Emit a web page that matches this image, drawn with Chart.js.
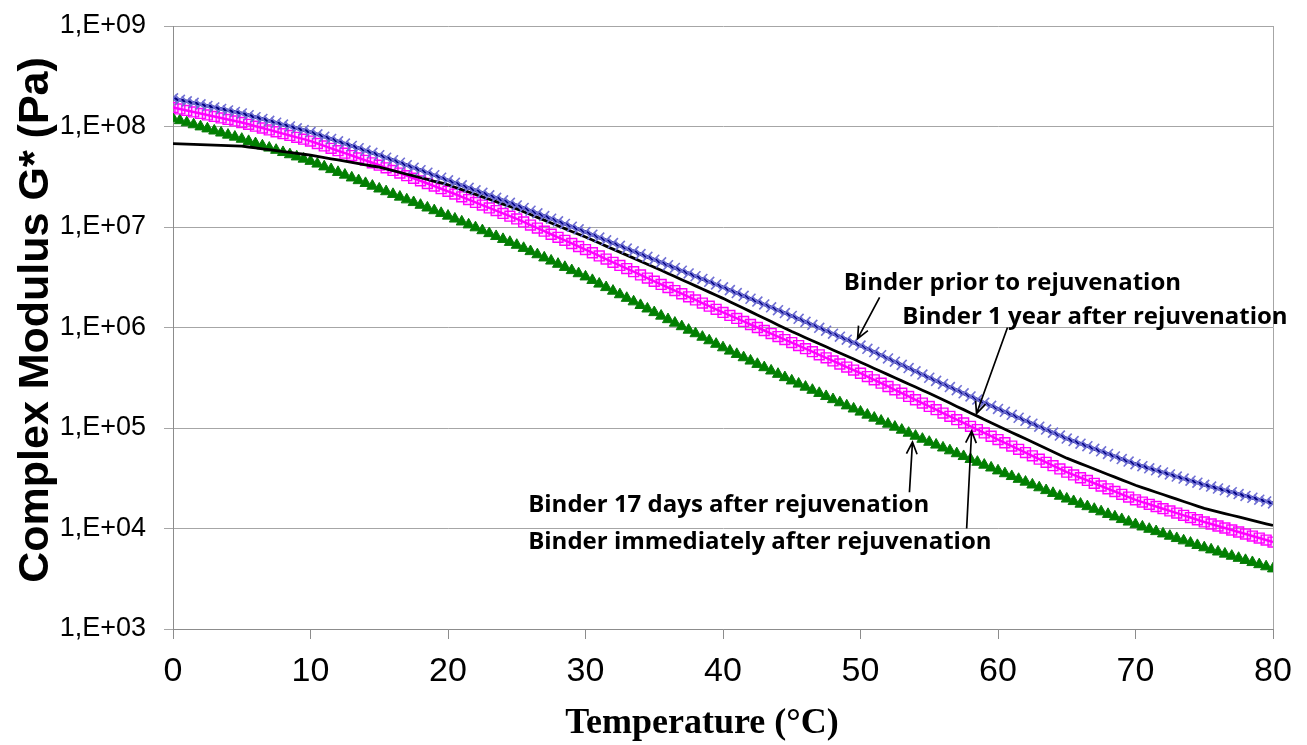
<!DOCTYPE html>
<html>
<head>
<meta charset="utf-8">
<script src="https://cdn.jsdelivr.net/npm/chart.js@4.4.1/dist/chart.umd.min.js"></script>
<style>
  html, body { margin: 0; padding: 0; background: #fff; }
  #wrap { width: 1307px; height: 745px; }
</style>
</head>
<body>
<div id="wrap"><canvas id="grafico" width="1307" height="745"></canvas></div>
<script>
// Temperatura (°C)
const temps = [0,0.5,1,1.5,2,2.5,3,3.5,4,4.5,5,5.5,6,6.5,7,7.5,8,8.5,9,9.5,
  10,10.5,11,11.5,12,12.5,13,13.5,14,14.5,15,15.5,16,16.5,17,17.5,18,18.5,19,19.5,
  20,20.5,21,21.5,22,22.5,23,23.5,24,24.5,25,25.5,26,26.5,27,27.5,28,28.5,29,29.5,
  30,30.5,31,31.5,32,32.5,33,33.5,34,34.5,35,35.5,36,36.5,37,37.5,38,38.5,39,39.5,
  40,40.5,41,41.5,42,42.5,43,43.5,44,44.5,45,45.5,46,46.5,47,47.5,48,48.5,49,49.5,
  50,50.5,51,51.5,52,52.5,53,53.5,54,54.5,55,55.5,56,56.5,57,57.5,58,58.5,59,59.5,
  60,60.5,61,61.5,62,62.5,63,63.5,64,64.5,65,65.5,66,66.5,67,67.5,68,68.5,69,69.5,
  70,70.5,71,71.5,72,72.5,73,73.5,74,74.5,75,75.5,76,76.5,77,77.5,78,78.5,79,79.5,80];

// log10 de G* (Pa)
const logPrior = [8.280,8.265,8.250,8.235,8.220,8.205,8.190,8.175,8.160,8.145,
  8.130,8.112,8.093,8.075,8.056,8.038,8.019,8.001,7.982,7.964,
  7.945,7.922,7.899,7.876,7.853,7.830,7.807,7.784,7.761,7.738,
  7.715,7.690,7.665,7.640,7.615,7.590,7.565,7.540,7.515,7.490,
  7.465,7.440,7.415,7.390,7.365,7.340,7.315,7.290,7.265,7.240,
  7.215,7.189,7.162,7.136,7.109,7.083,7.056,7.030,7.003,6.977,
  6.950,6.923,6.895,6.868,6.840,6.813,6.785,6.758,6.730,6.703,
  6.675,6.648,6.620,6.593,6.565,6.538,6.510,6.483,6.455,6.428,
  6.400,6.372,6.343,6.315,6.286,6.258,6.229,6.201,6.172,6.144,
  6.115,6.086,6.056,6.027,5.997,5.968,5.938,5.909,5.879,5.850,
  5.820,5.788,5.756,5.724,5.692,5.660,5.628,5.596,5.564,5.532,
  5.500,5.469,5.438,5.407,5.376,5.345,5.314,5.283,5.252,5.221,
  5.190,5.161,5.131,5.102,5.072,5.043,5.013,4.984,4.954,4.925,
  4.895,4.870,4.844,4.819,4.793,4.768,4.742,4.717,4.691,4.666,
  4.640,4.620,4.599,4.579,4.558,4.538,4.517,4.497,4.476,4.456,
  4.435,4.417,4.398,4.380,4.361,4.343,4.324,4.306,4.287,4.269,4.250];

const logYear = [7.830,7.828,7.825,7.823,7.820,7.818,7.815,7.813,7.810,7.808,
  7.805,7.796,7.787,7.778,7.769,7.760,7.751,7.742,7.733,7.724,
  7.715,7.703,7.691,7.679,7.667,7.655,7.643,7.631,7.619,7.607,
  7.595,7.578,7.560,7.543,7.525,7.508,7.490,7.473,7.455,7.438,
  7.420,7.396,7.372,7.348,7.324,7.300,7.276,7.252,7.228,7.204,
  7.180,7.152,7.124,7.096,7.068,7.040,7.012,6.984,6.956,6.928,
  6.900,6.870,6.840,6.810,6.780,6.750,6.720,6.690,6.660,6.630,
  6.600,6.569,6.538,6.507,6.476,6.445,6.414,6.383,6.352,6.321,
  6.290,6.257,6.224,6.191,6.158,6.125,6.092,6.059,6.026,5.993,
  5.960,5.930,5.899,5.869,5.838,5.808,5.777,5.747,5.716,5.686,
  5.655,5.624,5.593,5.562,5.531,5.500,5.469,5.438,5.407,5.376,
  5.345,5.313,5.280,5.248,5.215,5.183,5.150,5.118,5.085,5.053,
  5.020,4.988,4.956,4.924,4.892,4.860,4.828,4.796,4.764,4.732,
  4.700,4.673,4.646,4.619,4.592,4.565,4.538,4.511,4.484,4.457,
  4.430,4.407,4.384,4.361,4.338,4.315,4.292,4.269,4.246,4.223,
  4.200,4.183,4.166,4.149,4.132,4.115,4.098,4.081,4.064,4.047,4.030];

const logImmediate = [8.190,8.175,8.160,8.145,8.130,8.115,8.100,8.085,8.070,8.055,
  8.040,8.022,8.003,7.985,7.966,7.948,7.929,7.911,7.892,7.874,
  7.855,7.831,7.807,7.783,7.759,7.735,7.711,7.687,7.663,7.639,
  7.615,7.589,7.563,7.537,7.511,7.485,7.459,7.433,7.407,7.381,
  7.355,7.328,7.300,7.273,7.245,7.218,7.190,7.163,7.135,7.108,
  7.080,7.050,7.019,6.989,6.958,6.928,6.897,6.867,6.836,6.806,
  6.775,6.744,6.712,6.681,6.649,6.618,6.586,6.555,6.523,6.492,
  6.460,6.429,6.398,6.367,6.336,6.305,6.274,6.243,6.212,6.181,
  6.150,6.120,6.090,6.060,6.030,6.000,5.970,5.940,5.910,5.880,
  5.850,5.820,5.789,5.759,5.728,5.698,5.667,5.637,5.606,5.576,
  5.545,5.512,5.479,5.446,5.413,5.380,5.347,5.314,5.281,5.248,
  5.215,5.182,5.149,5.116,5.083,5.050,5.017,4.984,4.951,4.918,
  4.885,4.853,4.820,4.788,4.755,4.723,4.690,4.658,4.625,4.593,
  4.560,4.533,4.505,4.478,4.450,4.423,4.395,4.368,4.340,4.313,
  4.285,4.263,4.241,4.219,4.197,4.175,4.153,4.131,4.109,4.087,
  4.065,4.045,4.025,4.005,3.985,3.965,3.945,3.925,3.905,3.885,3.865];

const log17Days = [8.080,8.060,8.039,8.019,7.998,7.978,7.957,7.937,7.916,7.896,
  7.875,7.853,7.831,7.809,7.787,7.765,7.743,7.721,7.699,7.677,
  7.655,7.628,7.600,7.573,7.545,7.518,7.490,7.463,7.435,7.408,
  7.380,7.353,7.326,7.299,7.272,7.245,7.218,7.191,7.164,7.137,
  7.110,7.081,7.052,7.023,6.994,6.965,6.936,6.907,6.878,6.849,
  6.820,6.789,6.757,6.726,6.694,6.663,6.631,6.600,6.568,6.537,
  6.505,6.470,6.434,6.399,6.363,6.328,6.292,6.257,6.221,6.186,
  6.150,6.115,6.080,6.045,6.010,5.975,5.940,5.905,5.870,5.835,
  5.800,5.767,5.734,5.701,5.668,5.635,5.602,5.569,5.536,5.503,
  5.470,5.439,5.408,5.377,5.346,5.315,5.284,5.253,5.222,5.191,
  5.160,5.130,5.100,5.070,5.040,5.010,4.980,4.950,4.920,4.890,
  4.860,4.832,4.803,4.775,4.746,4.718,4.689,4.661,4.632,4.604,
  4.575,4.547,4.519,4.491,4.463,4.435,4.407,4.379,4.351,4.323,
  4.295,4.270,4.244,4.219,4.193,4.168,4.142,4.117,4.091,4.066,
  4.040,4.017,3.994,3.971,3.948,3.925,3.902,3.879,3.856,3.833,
  3.810,3.789,3.768,3.747,3.726,3.705,3.684,3.663,3.642,3.621,3.600];

// Ticks del eje Y
const yTickValues = [1e3, 1e4, 1e5, 1e6, 1e7, 1e8, 1e9];
const yTickLabels = ['1,E+03', '1,E+04', '1,E+05', '1,E+06', '1,E+07', '1,E+08', '1,E+09'];

const xTitle = 'Temperature (°C)';
const yTitle = 'Complex Modulus G* (Pa)';

// Anotaciones: texto, posición del texto y flecha (temperatura, log10 G*)
const notas = [
  { texto: 'Binder prior to rejuvenation', pos: [48.78, 6.377], cola: [51.39, 6.30], punta: [49.79, 5.89] },
  { texto: 'Binder 1 year after rejuvenation', pos: [53.04, 6.032], cola: [60.69, 6.00], punta: [58.44, 5.144] },
  { texto: 'Binder 17 days after rejuvenation', pos: [25.83, 4.164], cola: [53.56, 4.36], punta: [53.78, 4.86] },
  { texto: 'Binder immediately after rejuvenation', pos: [25.83, 3.80], cola: [57.72, 4.00], punta: [58.08, 4.97] }
];

function serie(logs) {
  return temps.map((t, i) => ({ x: t, y: Math.pow(10, logs[i]) }));
}

const decoraciones = {
  id: 'decoraciones',
  afterDraw(chart) {
    const ctx = chart.ctx;
    const area = chart.chartArea;
    const sx = chart.scales.x;
    const sy = chart.scales.y;

    // borde derecho del área de trazado
    ctx.save();
    ctx.strokeStyle = '#a6a6a6';
    ctx.lineWidth = 1;
    ctx.beginPath();
    ctx.moveTo(Math.round(area.right) + 0.5, area.top);
    ctx.lineTo(Math.round(area.right) + 0.5, area.bottom);
    ctx.stroke();
    ctx.restore();

    // títulos de los ejes
    ctx.save();
    ctx.fillStyle = '#000';
    ctx.font = 'bold 36px "Liberation Serif", serif';
    ctx.textAlign = 'center';
    ctx.textBaseline = 'alphabetic';
    ctx.fillText(xTitle, 702, 733);
    ctx.translate(48, 320);
    ctx.rotate(-Math.PI / 2);
    ctx.font = 'bold 43px "Liberation Sans", Arial, sans-serif';
    ctx.fillText(yTitle, 0, 0);
    ctx.restore();

    // anotaciones con flechas
    ctx.save();
    ctx.fillStyle = '#000';
    ctx.strokeStyle = '#000';
    ctx.lineWidth = 1.7;
    ctx.font = 'bold 24px "Open Sans", "Noto Sans", sans-serif';
    ctx.textAlign = 'left';
    ctx.textBaseline = 'alphabetic';
    notas.forEach(n => {
      const px = v => sx.getPixelForValue(v[0]);
      const py = v => sy.getPixelForValue(Math.pow(10, v[1]));
      ctx.fillText(n.texto, px(n.pos), py(n.pos));
      const x1 = px(n.cola), y1 = py(n.cola);
      const x2 = px(n.punta), y2 = py(n.punta);
      ctx.beginPath();
      ctx.moveTo(x1, y1);
      ctx.lineTo(x2, y2);
      const ang = Math.atan2(y2 - y1, x2 - x1);
      const largo = 13, ab = 0.42;
      ctx.moveTo(x2 - largo * Math.cos(ang - ab), y2 - largo * Math.sin(ang - ab));
      ctx.lineTo(x2, y2);
      ctx.lineTo(x2 - largo * Math.cos(ang + ab), y2 - largo * Math.sin(ang + ab));
      ctx.stroke();
    });
    ctx.restore();
  }
};

const ctx = document.getElementById('grafico').getContext('2d');
new Chart(ctx, {
  type: 'scatter',
  data: {
    datasets: [
      {
        label: 'Binder 17 days after rejuvenation',
        data: serie(log17Days),
        showLine: false,
        pointStyle: 'triangle',
        pointRadius: 6.4,
        pointBackgroundColor: '#008000',
        pointBorderColor: '#0a7d0a',
        pointBorderWidth: 1,
        order: 4
      },
      {
        label: 'Binder immediately after rejuvenation',
        data: serie(logImmediate),
        showLine: true,
        borderColor: '#ff00ff',
        borderWidth: 2.5,
        pointStyle: 'rect',
        pointRadius: 7,
        pointBackgroundColor: 'rgba(255,0,255,0.1)',
        pointBorderColor: '#ff00ff',
        pointBorderWidth: 1.4,
        order: 3
      },
      {
        label: 'Binder 1 year after rejuvenation',
        data: serie(logYear),
        showLine: true,
        borderColor: '#000000',
        borderWidth: 2.8,
        pointRadius: 0,
        order: 2
      },
      {
        label: 'Binder prior to rejuvenation',
        data: serie(logPrior),
        showLine: true,
        borderColor: '#000080',
        borderWidth: 3.4,
        pointStyle: 'crossRot',
        pointRadius: 7,
        pointBorderColor: '#7070d4',
        pointBorderWidth: 1.6,
        order: 1
      }
    ]
  },
  options: {
    responsive: false,
    animation: false,
    devicePixelRatio: 1,
    layout: { padding: { top: 26, right: 34, left: 0, bottom: 0 } },
    plugins: {
      legend: { display: false },
      tooltip: { enabled: false }
    },
    scales: {
      x: {
        type: 'linear',
        min: 0,
        max: 80,
        afterFit: s => { s.height = 116; },
        ticks: {
          stepSize: 10,
          color: '#000',
          padding: 12,
          font: { family: '"Liberation Sans", Arial, sans-serif', size: 34 }
        },
        grid: { drawOnChartArea: false, drawTicks: true, tickLength: 10, color: '#8c8c8c' },
        border: { color: '#8c8c8c' }
      },
      y: {
        type: 'logarithmic',
        min: 1e3,
        max: 1e9,
        afterFit: s => { s.width = 173; s.paddingTop = 0; s.paddingBottom = 0; },
        afterBuildTicks: s => { s.ticks = yTickValues.map(v => ({ value: v })); },
        ticks: {
          color: '#000',
          padding: 18,
          font: { family: '"Liberation Sans", Arial, sans-serif', size: 27 },
          callback: (v, i) => yTickLabels[i]
        },
        grid: { color: '#a6a6a6', tickLength: 9, drawTicks: true },
        border: { color: '#8c8c8c' }
      }
    }
  },
  plugins: [decoraciones]
});
</script>
</body>
</html>
